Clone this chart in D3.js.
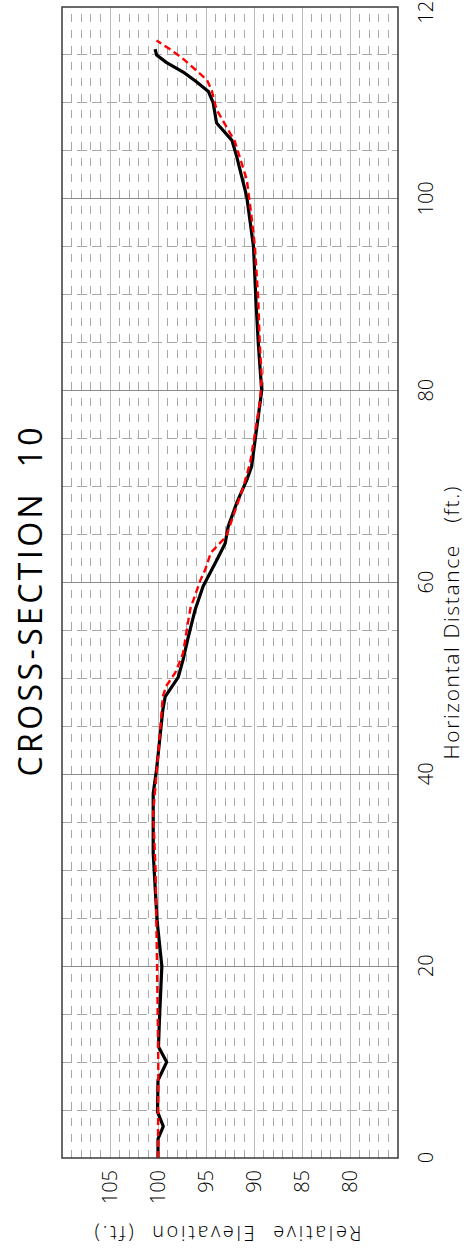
<!DOCTYPE html>
<html>
<head>
<meta charset="utf-8">
<script src="https://cdn.jsdelivr.net/npm/d3@7"></script>
<style>
body { margin: 0; background: #fff; }
svg { display: block; }
text { font-family: "Open Sans", "DejaVu Sans", sans-serif; font-weight: 300; fill: #000; white-space: pre; }
</style>
</head>
<body>
<svg id="chart" width="472" height="1254"></svg>
<script>
// chart is laid out landscape (1254 x 472) and then turned a quarter left
const distTicks = [0, 20, 40, 60, 80, 100, 120]
const elevTicks = [80, 85, 90, 95, 100, 105]

// [horizontal distance (ft), relative elevation (ft)]
const profileSolid = [
    [0, 100.0], [2, 100.0], [3.3, 99.45], [4.8, 100.05], [8.1, 100.0],
    [10.0, 99.1], [11.6, 99.95], [14.4, 99.85], [20, 99.6], [24.8, 100.1],
    [31.8, 100.5], [38, 100.5], [40.5, 100.15], [46.7, 99.5], [48.1, 99.25],
    [50.1, 97.9], [51.9, 97.4], [54.3, 96.85], [57.1, 96.15], [59.6, 95.3],
    [62.3, 93.9], [64.1, 93.0], [65.8, 92.7], [68.3, 91.8], [70.7, 90.75],
    [72.1, 90.25], [80, 89.2], [84.9, 89.55], [89.4, 89.8], [95, 90.05],
    [100.2, 90.75], [104.4, 91.8], [106.1, 92.3], [107.9, 93.9], [110, 94.25],
    [111.2, 94.75], [112.2, 96.0], [113.1, 97.2], [114.2, 99.1], [115, 100.15],
    [115.6, 100.3]
]

const profileDashed = [
    [0, 100.0], [10, 99.97], [20, 100.1], [30, 100.25], [36, 100.5],
    [42.2, 99.97], [48.1, 99.5], [49.2, 99.15], [50.6, 98.2], [52.6, 97.4],
    [56, 96.85], [57.4, 96.6], [58.2, 96.3], [60.2, 95.6], [61.3, 95.1],
    [63.1, 94.5], [64.8, 92.9], [70, 91.1], [72.5, 90.4], [78.7, 89.4],
    [81.5, 89.2], [84.9, 89.4], [89.4, 89.55], [95, 89.9], [98.1, 90.25],
    [102, 90.75], [106, 92.0], [109.3, 93.9], [111.3, 94.4], [112.4, 94.9],
    [114.7, 97.5], [115.7, 98.9], [116.5, 100.15]
]

const W = 1254, H = 472
const PLOT = {left: 96, right: 1247, top: 62, bottom: 398}

let svg = d3.select('#chart')
let g = svg.append('g')
    .attr('transform', 'translate(0,' + W + ') rotate(-90)')

let x = d3.scaleLinear()
    .domain([0, 120])
    .range([PLOT.left, PLOT.right])

let y = d3.scaleLinear()
    .domain([75, 110])
    .range([PLOT.bottom, PLOT.top])

let grid = g.append('g').attr('shape-rendering', 'crispEdges')

// minor elevation lines, every foot
grid.selectAll('.minElev')
    .data(d3.range(76, 110).filter(e => e % 5 != 0))
    .enter().append('line')
    .attr('x1', x(0)).attr('x2', x(120))
    .attr('y1', d => y(d)).attr('y2', d => y(d))
    .attr('stroke', '#a8a8a8')
    .attr('stroke-dasharray', '8,8')

// major elevation lines
grid.selectAll('.majElev')
    .data(elevTicks)
    .enter().append('line')
    .attr('x1', x(0)).attr('x2', x(120))
    .attr('y1', d => y(d)).attr('y2', d => y(d))
    .attr('stroke', '#bdbdbd')

// distance lines every 5 ft
grid.selectAll('.minDist')
    .data(d3.range(5, 120, 5).filter(d => d % 20 != 0))
    .enter().append('line')
    .attr('x1', d => x(d)).attr('x2', d => x(d))
    .attr('y1', y(110)).attr('y2', y(75))
    .attr('stroke', '#a8a8a8')
    .attr('stroke-dasharray', '10,5')

grid.selectAll('.majDist')
    .data(distTicks.filter(d => d > 0 && d < 120))
    .enter().append('line')
    .attr('x1', d => x(d)).attr('x2', d => x(d))
    .attr('y1', y(110)).attr('y2', y(75))
    .attr('stroke', '#8c8c8c')

let line = d3.line()
    .x(d => x(d[0]))
    .y(d => y(d[1]))

g.append('path')
    .datum(profileSolid)
    .attr('d', line)
    .attr('fill', 'none')
    .attr('stroke', '#000')
    .attr('stroke-width', 3.2)
    .attr('stroke-linejoin', 'round')

g.append('path')
    .datum(profileDashed)
    .attr('d', line)
    .attr('fill', 'none')
    .attr('stroke', '#ff0000')
    .attr('stroke-width', 2.4)
    .attr('stroke-dasharray', '7,4')

g.append('rect')
    .attr('x', PLOT.left).attr('y', PLOT.top)
    .attr('width', PLOT.right - PLOT.left)
    .attr('height', PLOT.bottom - PLOT.top)
    .attr('fill', 'none')
    .attr('stroke', '#3a3a3a')
    .attr('stroke-width', 1.5)

// axes
let xAxis = g.append('g')
    .attr('transform', 'translate(0,' + PLOT.bottom + ')')
    .call(d3.axisBottom(x).tickValues(distTicks).tickSize(0).tickPadding(21).tickFormat(d3.format('d')))
xAxis.select('.domain').remove()
xAxis.selectAll('text').style('font-size', '20px').style('font-family', null)

let yAxis = g.append('g')
    .attr('transform', 'translate(' + PLOT.left + ',0)')
    .call(d3.axisLeft(y).tickValues(elevTicks).tickSize(0).tickPadding(12).tickFormat(d3.format('d')))
yAxis.select('.domain').remove()
yAxis.selectAll('text').style('font-size', '20px').style('font-family', null)
// d3 puts font attrs on the axis group, let the css win
xAxis.attr('font-family', null).attr('font-size', null)
yAxis.attr('font-family', null).attr('font-size', null)

// titles
g.append('text')
    .attr('x', 652).attr('y', 42)
    .attr('text-anchor', 'middle')
    .attr('textLength', 349)
    .style('font-size', '32px')
    .style('font-weight', 400)
    .text('CROSS-SECTION  10')

g.append('text')
    .attr('x', 631).attr('y', 459)
    .attr('text-anchor', 'middle')
    .attr('textLength', 273)
    .style('font-size', '21px')
    .text('Horizontal Distance   (ft.)')

g.append('text')
    .attr('transform', 'translate(28,228) rotate(-90)')
    .attr('text-anchor', 'middle')
    .attr('textLength', 267)
    .style('font-size', '20px')
    .text('Relative  Elevation  (ft.)')
</script>
</body>
</html>
